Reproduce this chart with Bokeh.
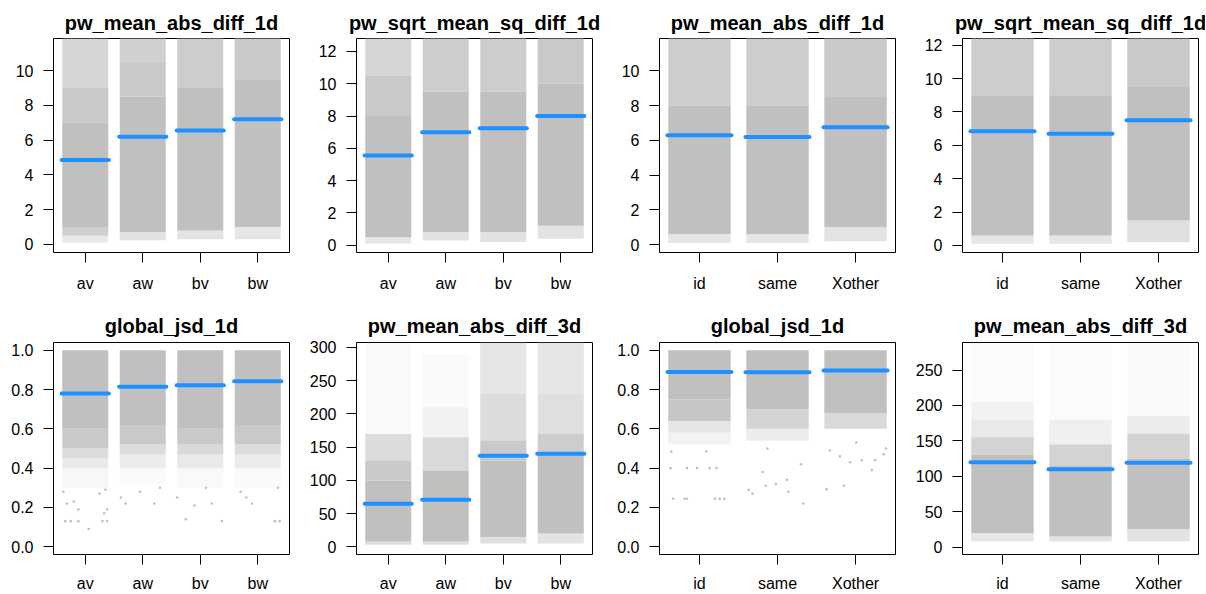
from bokeh.plotting import figure
from bokeh.layouts import row, column
from bokeh.models import FixedTicker, Range1d, PrintfTickFormatter
from bokeh.embed import file_html
from bokeh.resources import INLINE

# ---------------- data ----------------
cats_ab = ["av", "aw", "bv", "bw"]
cats_ix = ["id", "same", "Xother"]

titles = ["pw_mean_abs_diff_1d", "pw_sqrt_mean_sq_diff_1d",
          "pw_mean_abs_diff_1d", "pw_sqrt_mean_sq_diff_1d",
          "global_jsd_1d", "pw_mean_abs_diff_3d",
          "global_jsd_1d", "pw_mean_abs_diff_3d"]

# group means (blue bars)
means_p1 = [4.85, 6.2, 6.55, 7.2]
means_p2 = [5.55, 7.0, 7.25, 8.0]
means_p3 = [6.3, 6.2, 6.75]
means_p4 = [6.85, 6.7, 7.5]
means_p5 = [0.78, 0.815, 0.822, 0.842]
means_p6 = [65, 71, 137, 140]
means_p7 = [0.89, 0.888, 0.897]
means_p8 = [120, 110, 119]

# point-cloud density bands per group: (low, high, relative density)
bands_p1 = [[(0.1, 0.5, 0.35), (0.5, 1.0, 0.75), (1.0, 7.0, 1.0), (7.0, 9.0, 0.85), (9.0, 12.5, 0.65)],
            [(0.25, 0.7, 0.45), (0.7, 8.5, 1.0), (8.5, 10.5, 0.85), (10.5, 12.5, 0.75)],
            [(0.3, 0.8, 0.45), (0.8, 9.0, 1.0), (9.0, 12.5, 0.8)],
            [(0.3, 1.0, 0.4), (1.0, 9.5, 1.0), (9.5, 12.5, 0.85)]]
bands_p2 = [[(0.1, 0.5, 0.4), (0.5, 8.0, 1.0), (8.0, 10.5, 0.85), (10.5, 13.5, 0.65)],
            [(0.3, 0.8, 0.45), (0.8, 9.5, 1.0), (9.5, 13.5, 0.8)],
            [(0.2, 0.8, 0.45), (0.8, 9.5, 1.0), (9.5, 13.5, 0.8)],
            [(0.4, 1.2, 0.45), (1.2, 10.0, 1.0), (10.0, 13.5, 0.85)]]
bands_p3 = [[(0.1, 0.6, 0.4), (0.6, 8.0, 1.0), (8.0, 12.5, 0.8)],
            [(0.1, 0.6, 0.4), (0.6, 8.0, 1.0), (8.0, 12.5, 0.8)],
            [(0.2, 1.0, 0.45), (1.0, 8.5, 1.0), (8.5, 12.5, 0.85)]]
bands_p4 = [[(0.1, 0.6, 0.4), (0.6, 9.0, 1.0), (9.0, 13.0, 0.8)],
            [(0.1, 0.6, 0.4), (0.6, 9.0, 1.0), (9.0, 13.0, 0.8)],
            [(0.2, 1.5, 0.5), (1.5, 9.5, 1.0), (9.5, 13.0, 0.85)]]
bands_p5 = [[(0.3, 0.4, 0.12), (0.4, 0.45, 0.35), (0.45, 0.5, 0.55), (0.5, 0.6, 0.85), (0.6, 1.0, 1.0)],
            [(0.32, 0.4, 0.08), (0.4, 0.47, 0.3), (0.47, 0.52, 0.55), (0.52, 0.62, 0.85), (0.62, 1.0, 1.0)],
            [(0.3, 0.4, 0.1), (0.4, 0.47, 0.35), (0.47, 0.52, 0.6), (0.52, 0.6, 0.85), (0.6, 1.0, 1.0)],
            [(0.3, 0.4, 0.08), (0.4, 0.47, 0.3), (0.47, 0.52, 0.55), (0.52, 0.62, 0.85), (0.62, 1.0, 1.0)]]
bands_p6 = [[(3, 8, 0.5), (8, 100, 1.0), (100, 130, 0.85), (130, 170, 0.55), (170, 310, 0.1)],
            [(3, 8, 0.5), (8, 115, 1.0), (115, 165, 0.6), (165, 210, 0.2), (210, 290, 0.08)],
            [(5, 15, 0.5), (15, 130, 1.0), (130, 160, 0.85), (160, 230, 0.55), (230, 310, 0.4)],
            [(5, 20, 0.45), (20, 140, 1.0), (140, 170, 0.8), (170, 230, 0.5), (230, 310, 0.4)]]
bands_p7 = [[(0.52, 0.58, 0.2), (0.58, 0.64, 0.4), (0.64, 0.75, 0.9), (0.75, 1.0, 1.0)],
            [(0.54, 0.6, 0.3), (0.6, 0.7, 0.7), (0.7, 1.0, 1.0)],
            [(0.6, 0.68, 0.6), (0.68, 1.0, 1.0)]]
bands_p8 = [[(8, 20, 0.4), (20, 130, 1.0), (130, 155, 0.7), (155, 180, 0.35), (180, 205, 0.2), (205, 295, 0.06)],
            [(8, 15, 0.45), (15, 115, 1.0), (115, 145, 0.7), (145, 180, 0.25), (180, 295, 0.06)],
            [(8, 25, 0.45), (25, 125, 1.0), (125, 160, 0.7), (160, 185, 0.3), (185, 295, 0.08)]]

# isolated low points: (group index, jitter offset, value)
outliers_p5 = [(0, -0.35, 0.13), (0, -0.25, 0.13), (0, -0.12, 0.13), (0, 0.30, 0.13), (0, 0.38, 0.13),
               (0, 0.33, 0.17), (0, 0.38, 0.19), (0, -0.12, 0.19), (0, -0.20, 0.23), (0, -0.32, 0.22),
               (0, 0.25, 0.27), (0, 0.06, 0.09), (0, 0.35, 0.29), (0, -0.38, 0.28),
               (1, -0.38, 0.25), (1, -0.30, 0.22), (1, 0.20, 0.22), (1, -0.05, 0.28), (1, 0.30, 0.30),
               (2, -0.40, 0.25), (2, -0.10, 0.21), (2, 0.20, 0.22), (2, -0.25, 0.14), (2, 0.38, 0.13), (2, 0.10, 0.30),
               (3, 0.30, 0.13), (3, 0.38, 0.13), (3, -0.10, 0.22), (3, -0.20, 0.25), (3, 0.35, 0.30), (3, -0.30, 0.28)]
outliers_p7 = [(0, -0.34, 0.244), (0, -0.19, 0.244), (0, -0.16, 0.244), (0, 0.20, 0.244), (0, 0.26, 0.244), (0, 0.32, 0.244),
               (0, -0.37, 0.40), (0, -0.16, 0.40), (0, -0.03, 0.40), (0, 0.13, 0.40), (0, 0.22, 0.40),
               (0, -0.36, 0.485), (0, 0.09, 0.485),
               (1, -0.37, 0.29), (1, -0.32, 0.27), (1, -0.19, 0.38), (1, -0.15, 0.31), (1, -0.02, 0.32),
               (1, 0.12, 0.34), (1, 0.14, 0.28), (1, 0.33, 0.22), (1, 0.30, 0.42), (1, -0.13, 0.50),
               (2, -0.37, 0.293), (2, -0.15, 0.31), (2, -0.33, 0.49), (2, -0.20, 0.46), (2, 0.01, 0.53),
               (2, 0.08, 0.44), (2, 0.21, 0.39), (2, 0.25, 0.44), (2, 0.36, 0.47), (2, 0.39, 0.50), (2, -0.07, 0.43)]

# axis limits and ticks
ylims = [(-0.46, 11.84), (-0.45, 12.8), (-0.45, 11.86), (-0.42, 12.4),
         (-0.04, 1.04), (-11.5, 307.5), (-0.04, 1.04), (-10.5, 289)]
yticks = [[0, 2, 4, 6, 8, 10], [0, 2, 4, 6, 8, 10, 12], [0, 2, 4, 6, 8, 10], [0, 2, 4, 6, 8, 10, 12],
          [0, 0.2, 0.4, 0.6, 0.8, 1.0], [0, 50, 100, 150, 200, 250, 300],
          [0, 0.2, 0.4, 0.6, 0.8, 1.0], [0, 50, 100, 150, 200, 250]]

GREY = "#C0C0C0"
BLUE = "#1E90FF"
FONT = "Liberation Sans"
HALF = 0.4


def make_panel(k, cats, means, bands, outliers, r, c):
    n = len(cats)
    pad = 0.04 * (n - 0.2)
    p = figure(frame_width=236, frame_height=214 if r == 0 else 212,
               x_range=Range1d(0.6 - pad, n + 0.4 + pad), y_range=Range1d(*ylims[k]),
               output_backend="svg", toolbar_location=None, tools="",
               min_border_left=53, min_border_right=14 if c < 3 else 7,
               min_border_top=38 if r == 0 else 45, min_border_bottom=45 if r == 0 else 40,
               title=titles[k])
    # clouds
    L, R, B, T, A = [], [], [], [], []
    for gi, gb in enumerate(bands):
        for lo, hi, d in gb:
            L.append(gi + 1 - HALF); R.append(gi + 1 + HALF)
            B.append(lo); T.append(hi); A.append(d)
    p.quad(left=L, right=R, bottom=B, top=T, fill_color=GREY, fill_alpha=A, line_color=None)
    if outliers:
        xs = [g + 1 + off for g, off, v in outliers]
        ys = [v for g, off, v in outliers]
        p.scatter(xs, ys, size=2.6, color=GREY, line_color=None)
    # mean bars
    xc = list(range(1, n + 1))
    p.segment(x0=[x - 0.41 for x in xc], x1=[x + 0.41 for x in xc], y0=means, y1=means,
              line_color=BLUE, line_width=4, line_cap="round")
    # axes
    p.xaxis.ticker = FixedTicker(ticks=xc)
    p.xaxis.major_label_overrides = {i + 1: cname for i, cname in enumerate(cats)}
    p.yaxis.ticker = FixedTicker(ticks=yticks[k])
    if k in (4, 6):
        p.yaxis.formatter = PrintfTickFormatter(format="%.1f")
    p.xgrid.grid_line_color = None
    p.ygrid.grid_line_color = None
    p.axis.axis_line_color = None
    p.axis.major_tick_out = 10
    p.axis.major_tick_in = 0
    p.axis.minor_tick_line_color = None
    p.axis.major_tick_line_color = "black"
    p.axis.major_label_text_font = FONT
    p.axis.major_label_text_font_size = "16px"
    p.axis.major_label_text_color = "black"
    p.yaxis.major_label_standoff = 10
    p.xaxis.major_label_standoff = 12 if r == 0 else 10
    p.outline_line_color = "black"
    p.outline_line_alpha = 1.0
    p.outline_line_width = 1
    p.title.text_font = FONT
    p.title.text_font_style = "bold"
    p.title.text_font_size = "20px"
    p.title.text_color = "black"
    p.title.align = "center"
    p.title.standoff = 9 if r == 0 else 11
    p.background_fill_color = "white"
    p.border_fill_color = "white"
    return p


panels = [
    make_panel(0, cats_ab, means_p1, bands_p1, None, 0, 0),
    make_panel(1, cats_ab, means_p2, bands_p2, None, 0, 1),
    make_panel(2, cats_ix, means_p3, bands_p3, None, 0, 2),
    make_panel(3, cats_ix, means_p4, bands_p4, None, 0, 3),
    make_panel(4, cats_ab, means_p5, bands_p5, outliers_p5, 1, 0),
    make_panel(5, cats_ab, means_p6, bands_p6, None, 1, 1),
    make_panel(6, cats_ix, means_p7, bands_p7, outliers_p7, 1, 2),
    make_panel(7, cats_ix, means_p8, bands_p8, None, 1, 3),
]

layout = column(row(*panels[:4]), row(*panels[4:]))
open("out.html", "w").write(file_html(layout, INLINE))
